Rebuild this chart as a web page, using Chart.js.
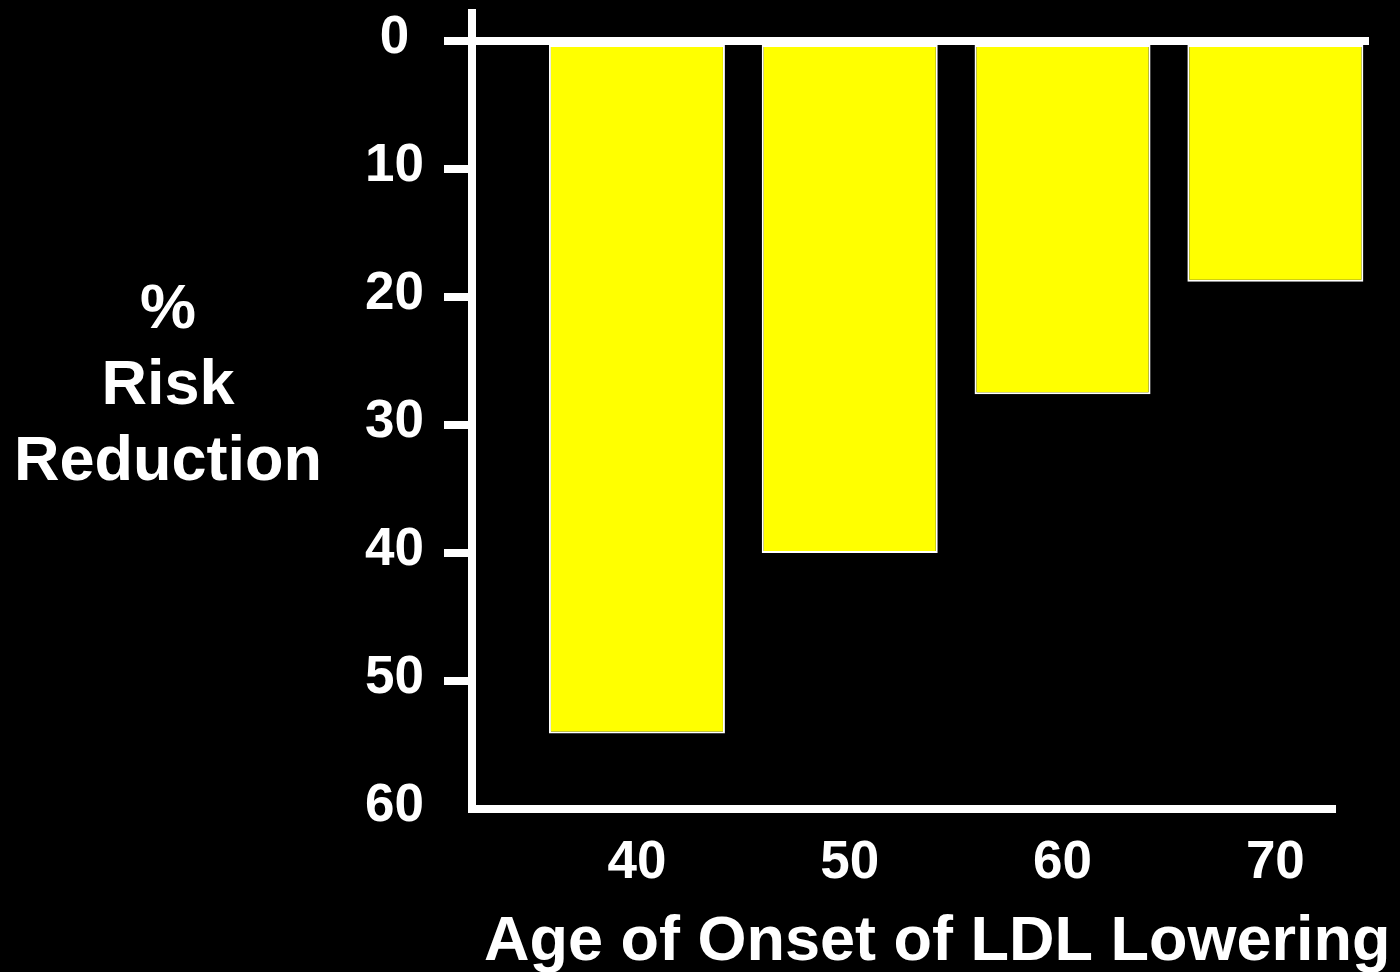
<!DOCTYPE html>
<html>
<head>
<meta charset="utf-8">
<title>Risk reduction by age of onset of LDL lowering</title>
<script src="https://cdn.jsdelivr.net/npm/chart.js@4/dist/chart.umd.min.js"></script>
<style>
  html, body { margin: 0; padding: 0; background: #000; }
  #wrap { position: relative; width: 1400px; height: 972px; }
</style>
</head>
<body>
<div id="wrap"><canvas id="chart"></canvas></div>
<script>
// Age at which LDL lowering starts, and the resulting % risk reduction
const ageOfOnset = [40, 50, 60, 70];
const riskReduction = [54.1, 40.0, 27.6, 18.8];
const yTickValues = [0, 10, 20, 30, 40, 50, 60];
const yTitleLines = ['%', 'Risk', 'Reduction'];
const xTitle = 'Age of Onset of LDL Lowering';

const FONT = '"Liberation Sans", Arial, Helvetica, sans-serif';
const WHITE = '#ffffff';
const YELLOW = '#ffff00';
const CLEAR = 'rgba(0,0,0,0)';
const AXIS_W = 8;
const X_MIN = 32.25, X_MAX = 74.4, X_LINE_END = 72.85;
const Y_TOP = -2.19, Y_BOTTOM = 60;

// Bottom axis line (stops short of the last bar) and the free-standing captions
const decorations = {
  id: 'decorations',
  afterDraw(chart) {
    const { ctx, chartArea, scales: { x } } = chart;
    ctx.save();
    ctx.strokeStyle = WHITE;
    ctx.lineWidth = AXIS_W;
    ctx.beginPath();
    ctx.moveTo(chartArea.left - AXIS_W / 2, chartArea.bottom);
    ctx.lineTo(x.getPixelForValue(X_LINE_END), chartArea.bottom);
    ctx.stroke();

    ctx.fillStyle = WHITE;
    ctx.textBaseline = 'alphabetic';
    ctx.textAlign = 'center';
    ctx.font = 'bold 63px ' + FONT;
    const baselines = [328, 404, 480];
    yTitleLines.forEach((line, i) => ctx.fillText(line, 168, baselines[i]));

    ctx.textAlign = 'left';
    ctx.font = 'bold 63px ' + FONT;
    ctx.fillText(xTitle, 484, 960);
    ctx.restore();
  }
};

const noEdgePadding = s => {
  s.paddingTop = 0; s.paddingBottom = 0; s.paddingLeft = 0; s.paddingRight = 0;
};

new Chart(document.getElementById('chart'), {
  type: 'bar',
  data: {
    datasets: [{
      data: ageOfOnset.map((age, i) => ({ x: age, y: riskReduction[i] })),
      backgroundColor: YELLOW,
      borderColor: WHITE,
      borderWidth: 2,
      borderSkipped: false,
      barPercentage: 0.827,
      categoryPercentage: 1,
      clip: false
    }]
  },
  options: {
    responsive: true,
    maintainAspectRatio: false,
    animation: false,
    events: [],
    layout: { padding: { top: 13, right: 31, left: 0, bottom: 0 } },
    plugins: { legend: { display: false }, tooltip: { enabled: false } },
    scales: {
      x: {
        type: 'linear',
        offset: false,
        min: X_MIN,
        max: X_MAX,
        afterBuildTicks: s => { s.ticks = ageOfOnset.map(v => ({ value: v })); },
        afterFit: s => { s.height = 163; noEdgePadding(s); },
        grid: { display: false, drawTicks: false, offset: false },
        border: { display: false },
        ticks: {
          color: WHITE,
          font: { family: FONT, size: 53, weight: 'bold' },
          padding: 23,
          autoSkip: false,
          maxRotation: 0,
          callback: v => String(v)
        }
      },
      y: {
        type: 'linear',
        reverse: true,
        min: Y_TOP,
        max: Y_BOTTOM,
        afterBuildTicks: s => { s.ticks = yTickValues.map(v => ({ value: v })); },
        afterFit: s => { s.width = 472; noEdgePadding(s); },
        grid: {
          z: 1,
          drawOnChartArea: true,
          color: c => (c.tick && c.tick.value === 0) ? WHITE : CLEAR,
          lineWidth: AXIS_W,
          tickColor: c => (c.tick && c.tick.value === Y_BOTTOM) ? CLEAR : WHITE,
          tickWidth: AXIS_W,
          tickLength: 28
        },
        border: { display: true, color: WHITE, width: AXIS_W, z: 1 },
        ticks: {
          color: WHITE,
          font: { family: FONT, size: 53, weight: 'bold' },
          padding: 20,
          crossAlign: 'center',
          labelOffset: -3,
          callback: v => String(v)
        }
      }
    }
  },
  plugins: [decorations]
});
</script>
</body>
</html>
